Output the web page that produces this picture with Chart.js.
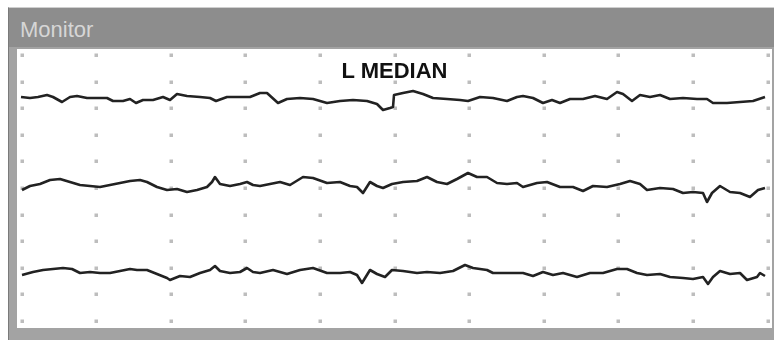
<!DOCTYPE html>
<html>
<head>
<meta charset="utf-8">
<script src="https://cdn.jsdelivr.net/npm/chart.js@4.4.0/dist/chart.umd.min.js"></script>
<style>
  body { margin: 0; width: 774px; height: 340px; background: #fff; position: relative; overflow: hidden;
         font-family: "Liberation Sans", Arial, sans-serif; }
  #frame { position: absolute; left: 8px; top: 7px; width: 766px; height: 333px; background: #a3a3a3;
           border-top: 1px solid #cfcfcf; border-left: 1px solid #7a7a7a; box-sizing: border-box; }
  #titlebar { position: absolute; left: 9px; top: 8px; width: 765px; height: 39px; background: #8d8d8d; }
  #caption { position: absolute; left: 20px; top: 19px; font-size: 22px; line-height: 22px; color: #d6d6d6; }
  #plot { position: absolute; left: 17px; top: 49px; width: 755px; height: 279px; background: #fff; }
  #heading { position: absolute; left: 17px; width: 755px; top: 60px; text-align: center;
             font-size: 22px; line-height: 22px; font-weight: bold; color: #111; }
</style>
</head>
<body>
<div id="frame"></div>
<div id="titlebar"></div>
<div id="caption">Monitor</div>
<div id="plot"><canvas id="chart" width="755" height="279"></canvas></div>
<div id="heading">L MEDIAN</div>
<script>
// sample positions and amplitudes
const trace1X = [0, 9, 17, 26, 32, 41, 49, 56, 66, 86, 92, 102, 109, 115, 122, 132, 142, 149, 156, 166,
  179, 189, 195, 206, 219, 229, 239, 246, 257, 266, 279, 292, 306, 319, 332, 346, 356, 362, 369, 372,
  373, 382, 392, 402, 412, 426, 439, 447, 459, 472, 486, 496, 502, 512, 522, 531, 539, 549, 562, 574,
  586, 596, 602, 611, 619, 629, 639, 649, 662, 676, 686, 692, 706, 719, 732, 744];
const trace1Y = [224, 223, 224, 226, 224, 219, 224, 225, 223, 223, 220, 220, 222, 218, 221, 221, 224, 221, 227, 225,
  224, 223, 220, 224, 224, 224, 228, 228, 218, 222, 223, 222, 218, 220, 221, 220, 217, 211, 213, 214,
  226, 228, 230, 227, 223, 222, 221, 220, 224, 223, 220, 224, 225, 223, 218, 221, 218, 222, 222, 225,
  222, 229, 227, 220, 226, 224, 226, 222, 223, 222, 222, 218, 218, 219, 220, 224];

const trace2X = [1, 9, 19, 29, 39, 49, 59, 69, 79, 89, 99, 109, 119, 126, 136, 146, 156, 166, 176, 186,
  191, 194, 199, 209, 219, 226, 232, 239, 249, 259, 269, 282, 292, 306, 319, 329, 336, 342, 349, 356,
  362, 371, 382, 396, 406, 416, 426, 436, 447, 456, 466, 476, 486, 496, 502, 516, 526, 539, 552, 562,
  572, 586, 599, 609, 619, 626, 639, 652, 662, 672, 682, 686, 691, 699, 709, 719, 729, 737, 744];
const trace2Y = [131, 135, 137, 141, 142, 139, 136, 135, 134, 136, 138, 140, 141, 139, 134, 131, 132, 129, 131, 134,
  139, 144, 137, 135, 137, 139, 136, 135, 137, 139, 136, 144, 143, 138, 139, 135, 134, 128, 139, 135,
  133, 137, 139, 140, 144, 139, 137, 142, 148, 144, 144, 138, 137, 138, 134, 138, 139, 134, 134, 130,
  135, 134, 137, 140, 137, 131, 133, 132, 128, 129, 128, 119, 128, 135, 129, 128, 124, 131, 133];

const trace3X = [1, 12, 22, 32, 42, 51, 59, 69, 79, 89, 99, 109, 116, 126, 136, 146, 149, 159, 169, 179,
  189, 194, 199, 209, 219, 226, 232, 239, 252, 266, 279, 292, 306, 319, 329, 336, 341, 349, 356, 364,
  371, 382, 396, 406, 419, 432, 444, 452, 466, 472, 486, 502, 512, 522, 532, 542, 556, 569, 582, 596,
  606, 616, 626, 639, 649, 662, 672, 682, 687, 692, 699, 709, 719, 726, 736, 739, 744];
const trace3Y = [46, 49, 51, 52, 53, 52, 48, 49, 48, 48, 50, 52, 51, 51, 47, 43, 41, 45, 44, 48,
  51, 55, 50, 48, 49, 53, 49, 48, 51, 47, 51, 53, 48, 48, 49, 46, 38, 51, 47, 44,
  51, 50, 48, 49, 48, 50, 56, 53, 51, 48, 48, 48, 45, 49, 46, 48, 44, 48, 48, 52,
  52, 48, 46, 47, 44, 43, 42, 44, 37, 44, 50, 47, 48, 41, 44, 48, 45];

// dotted graticule positions
const gridX = [0.5, 75.1, 149.7, 224.3, 298.9, 373.5, 448.1, 522.7, 597.3, 671.9, 746.5];
const gridY = [0, 26.6, 53.2, 79.8, 106.4, 133, 159.6, 186.2, 212.8, 239.4, 266];

const toPoints = (xs, ys) => xs.map((x, i) => ({ x: x, y: ys[i] }));

const graticule = {
  id: "graticule",
  beforeDatasetsDraw(chart) {
    const { ctx, scales } = chart;
    ctx.save();
    ctx.fillStyle = "#bdbdbd";
    gridX.forEach((gx) => {
      gridY.forEach((gy) => {
        const px = Math.round(scales.x.getPixelForValue(gx));
        const py = Math.round(scales.y.getPixelForValue(gy));
        ctx.fillRect(px - 1.5, py - 1.5, 3.5, 3.5);
      });
    });
    ctx.restore();
  },
};

const traceStyle = {
  borderColor: "#222",
  borderWidth: 2.6,
  pointRadius: 0,
  tension: 0,
  fill: false,
  borderJoinStyle: "round",
};

new Chart(document.getElementById("chart").getContext("2d"), {
  type: "line",
  data: {
    datasets: [
      { label: "Trace 1", data: toPoints(trace1X, trace1Y), ...traceStyle },
      { label: "Trace 2", data: toPoints(trace2X, trace2Y), ...traceStyle },
      { label: "Trace 3", data: toPoints(trace3X, trace3Y), ...traceStyle },
    ],
  },
  options: {
    responsive: false,
    animation: false,
    layout: { padding: 0 },
    plugins: { legend: { display: false }, tooltip: { enabled: false }, title: { display: false } },
    scales: {
      x: { type: "linear", min: -4, max: 751, display: false },
      y: { type: "linear", min: -7, max: 272, display: false },
    },
  },
  plugins: [graticule],
});
</script>
</body>
</html>
